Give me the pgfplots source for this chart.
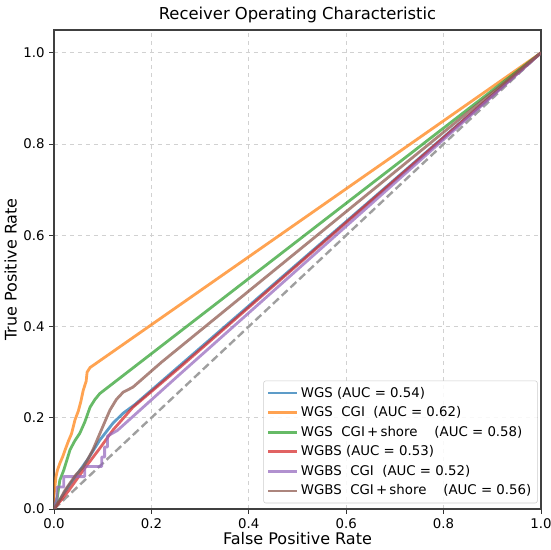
\documentclass[border=0pt]{standalone}
\usepackage{pgfplots}
\pgfplotsset{compat=1.18}
\usepackage{fontspec}
\setmainfont{DejaVu Sans}

\definecolor{c0}{HTML}{1F77B4}
\definecolor{c1}{HTML}{FF7F0E}
\definecolor{c2}{HTML}{2CA02C}
\definecolor{c3}{HTML}{D62728}
\definecolor{c4}{HTML}{9467BD}
\definecolor{c5}{HTML}{8C564B}

\begin{document}
\begin{tikzpicture}[x=1pt,y=1pt]
% fixed canvas so the page keeps the figure's proportions
\path[use as bounding box] (-40.5,-30.75) rectangle (372.75,381.75);
\begin{axis}[
  at={(0,0)}, anchor=south west,
  scale only axis,
  width=365.25pt, height=359.25pt,
  xmin=0, xmax=1, ymin=0, ymax=1.05,
  xtick={0,0.2,0.4,0.6,0.8,1.0},
  ytick={0,0.2,0.4,0.6,0.8,1.0},
  /pgf/number format/.cd, fixed, fixed zerofill, precision=1, assume math mode=true,
  /pgfplots/.cd,
  tick align=outside, tick pos=left,
  major tick length=3.5pt,
  tick style={color=black!80, line width=0.6pt},
  axis line style={color=black!75, line width=0.8pt},
  ticklabel style={font=\fontsize{10}{12}\selectfont},
  grid=major,
  grid style={dashed, color=black!18, line width=0.5pt},
  title={Receiver Operating Characteristic},
  title style={font=\fontsize{12.3}{14}\selectfont, yshift=-4pt},
  xlabel={False Positive Rate},
  ylabel={True Positive Rate},
  label style={font=\fontsize{12}{14}\selectfont},
  xlabel style={yshift=4pt},
  ylabel style={yshift=-2pt},
  legend style={font=\fontsize{10}{11}\selectfont, draw=black!20, rounded corners=1.5pt,
    row sep=1.6pt, inner sep=2.5pt, at={(0.993,0.012)}, anchor=south east, fill=white, fill opacity=0.85, text opacity=1},
  legend cell align=left,
  legend image code/.code={\draw[line width=2.1pt] plot coordinates {(0cm,0cm) (0.75cm,0cm)};},
  every axis plot/.append style={line width=2.1pt, opacity=0.72, line join=round},
]
% chance line
\addplot[forget plot, color=gray!75, line width=1.8pt, dash pattern=on 6pt off 3pt, opacity=1] coordinates {(0,0) (1,1)};

% WGS
\addplot[c0] coordinates {
 (0,0) (0.012,0.02) (0.03,0.05) (0.05,0.08) (0.07,0.11) (0.094,0.151)
 (0.121,0.188) (0.142,0.21) (0.165,0.228) (1,1)};
\addlegendentry{WGS (AUC = 0.54)}

% WGS CGI
\addplot[c1] coordinates {
 (0,0) (0,0.03) (0.004,0.07) (0.007,0.085) (0.012,0.1) (0.018,0.115)
 (0.023,0.13) (0.03,0.15) (0.036,0.165) (0.043,0.195) (0.05,0.215)
 (0.055,0.235) (0.06,0.26) (0.066,0.28) (0.068,0.3) (0.074,0.31) (1,1)};
\addlegendentry{WGS\ \ CGI\ \ (AUC = 0.62)}

% WGS CGI + shore
\addplot[c2] coordinates {
 (0,0) (0.006,0.02) (0.012,0.063) (0.02,0.085) (0.033,0.13) (0.043,0.15)
 (0.053,0.166) (0.063,0.19) (0.074,0.223) (0.084,0.24) (0.094,0.253) (1,1)};
\addlegendentry{WGS\ \ CGI\,+\,shore\ \ \ \ (AUC = 0.58)}

% WGBS
\addplot[c3] coordinates {
 (0,0) (0.03,0.04) (0.06,0.085) (0.094,0.133) (0.121,0.173)
 (0.162,0.223) (0.259,0.311) (1,1)};
\addlegendentry{WGBS (AUC = 0.53)}

% WGBS CGI
\addplot[c4] coordinates {
 (0,0) (0.006,0.025) (0.006,0.048) (0.02,0.048) (0.02,0.071) (0.063,0.071)
 (0.063,0.093) (0.098,0.093) (0.098,0.114) (0.104,0.114) (0.104,0.136)
 (0.11,0.136) (0.11,0.16) (0.13,0.172) (0.259,0.296) (1,1)};
\addlegendentry{WGBS\ \ CGI\ \ (AUC = 0.52)}

% WGBS CGI + shore
\addplot[c5] coordinates {
 (0,0) (0.012,0.02) (0.022,0.04) (0.033,0.057) (0.045,0.075) (0.06,0.092)
 (0.07,0.11) (0.08,0.13) (0.09,0.155) (0.1,0.18) (0.108,0.2) (0.115,0.217)
 (0.128,0.24) (0.142,0.256) (0.162,0.267) (0.221,0.322) (1,1)};
\addlegendentry{WGBS\ \ CGI\,+\,shore\ \ \ \ (AUC = 0.56)}
\end{axis}
\end{tikzpicture}
\end{document}
